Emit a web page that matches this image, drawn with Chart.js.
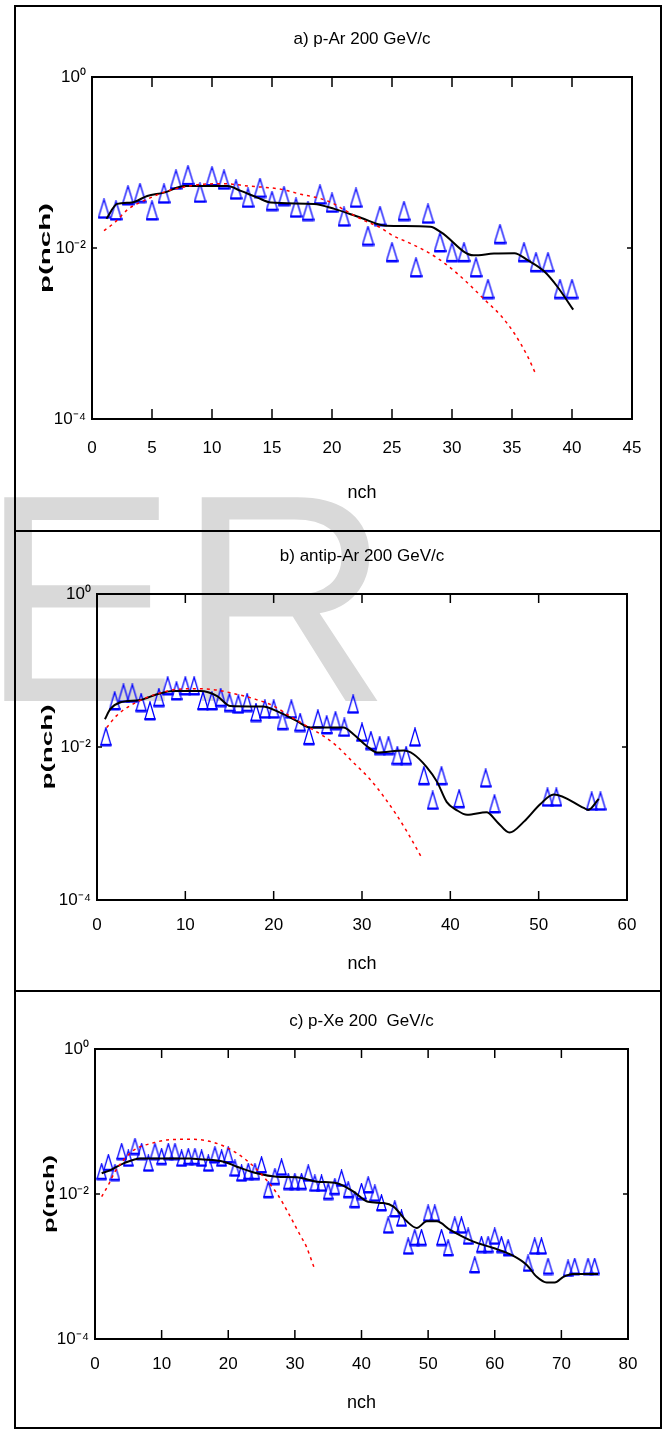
<!DOCTYPE html>
<html>
<head>
<meta charset="utf-8">
<title>p(nch) distributions</title>
<script src="https://cdn.jsdelivr.net/npm/chart.js@4.4.1/dist/chart.umd.min.js"></script>
<style>
  body { margin: 0; background: #fff; }
  #page { position: relative; width: 665px; height: 1429px; overflow: hidden; }
  #mark { position: absolute; left: -20px; top: 451px; font: 296px "Liberation Sans", Arial, sans-serif; line-height: 296px; color: #d9d9d9; white-space: nowrap; }
  .box { position: absolute; left: 14px; width: 648px; border: 2px solid #000; box-sizing: border-box; }
  canvas { position: absolute; left: 0; }
</style>
</head>
<body>
<div id="page">
  <div id="mark">ER</div>
  <div class="box" style="top:5px;height:527px"></div>
  <div class="box" style="top:530px;height:462px"></div>
  <div class="box" style="top:990px;height:439px"></div>
  <canvas id="chartA" width="665" height="524" style="top:6px"></canvas>
  <canvas id="chartB" width="665" height="460" style="top:530px"></canvas>
  <canvas id="chartC" width="665" height="439" style="top:990px"></canvas>
</div>
<script>
'use strict';
// y axis (log) ticks
const yTickVals = [1e-4, 1e-2, 1];
const yTickLabels = ['10⁻⁴', '10⁻²', '10⁰'];
const yName = 'p(nch)';
const xName = 'nch';

// a) p-Ar
const titleA = 'a) p-Ar 200 GeV/c';
const nchA = [1, 2, 3, 4, 5, 6, 7, 8, 9, 10, 11, 12, 13, 14, 15, 16, 17, 18, 19, 20,
  21, 22, 23, 24, 25, 26, 27, 28, 29, 30, 31, 32, 33, 34, 36, 37, 38, 39, 40];
const probA = [0.0287, 0.0274, 0.0411, 0.0438, 0.0274, 0.0431, 0.0628, 0.0708, 0.044, 0.0687,
  0.0628, 0.048, 0.0385, 0.0503, 0.0353, 0.0403, 0.0295, 0.027, 0.042, 0.0337,
  0.0232, 0.0385, 0.0138, 0.0236, 0.0089, 0.027, 0.0059, 0.0251, 0.0116, 0.0089,
  0.0089, 0.0059, 0.0033, 0.0145, 0.0089, 0.0068, 0.0068, 0.0033, 0.0033];
const fitA_n = [1.2, 2.1, 3.3, 4.6, 6, 7.7, 10.2, 11.3, 12.4, 13.8, 14.9, 18.5, 20.2, 22.4, 24.5,
  28.2, 29.1, 31.8, 33.5, 35.2, 36.3, 37.7, 38.8, 40.1];
const fitA_p = [0.022, 0.0328, 0.034, 0.0406, 0.0444, 0.0531, 0.0531, 0.0531, 0.0465, 0.0388, 0.034,
  0.0328, 0.0287, 0.0226, 0.0182, 0.0177, 0.0152, 0.0082, 0.0086, 0.0087, 0.0072, 0.0053, 0.0035, 0.0019];
const dashA_n = [1, 1.9, 3, 4.6, 6.3, 7.4, 9.1, 11, 13, 15.8, 17.4, 19, 20, 21, 22, 23, 24, 25, 26.3,
  28, 29.6, 31.3, 32.7, 34.1, 35.2, 36.3, 37];
const dashA_p = [0.016, 0.0199, 0.0284, 0.0372, 0.0465, 0.0507, 0.0555, 0.0564, 0.0531, 0.0485,
  0.0425, 0.038, 0.0337, 0.028, 0.0234, 0.02, 0.0174, 0.0141, 0.0117, 0.0089,
  0.0063, 0.0039, 0.0025, 0.0016, 0.001, 0.00054, 0.00033];

// b) antip-Ar
const titleB = 'b) antip-Ar 200 GeV/c';
const nchB = [1, 2, 3, 4, 5, 6, 7, 8, 9, 10, 11, 12, 13, 14, 15, 16, 17, 18, 19, 20,
  21, 22, 23, 24, 25, 26, 27, 28, 29, 30, 31, 32, 33, 34, 35, 36, 37, 38, 39,
  41, 44, 45, 51, 52, 56, 57];
const probB = [0.0136, 0.04, 0.0502, 0.0502, 0.038, 0.0296, 0.0442, 0.0626, 0.0539, 0.0626,
  0.0626, 0.04, 0.04, 0.0442, 0.038, 0.0362, 0.038, 0.0282, 0.0312, 0.0312,
  0.022, 0.0312, 0.0209, 0.014, 0.0231, 0.0194, 0.022, 0.018, 0.0362, 0.0155,
  0.0121, 0.0104, 0.0104, 0.0077, 0.0077, 0.0134, 0.0042, 0.002, 0.0042,
  0.0021, 0.0039, 0.0018, 0.0022, 0.0022, 0.00195, 0.00195];
const fitB_n = [0.9, 1.5, 2.6, 4.9, 6.8, 8.6, 11.7, 13.6, 15.1, 18.8, 20.3, 22.6, 24.1, 27.9, 29,
  30.5, 31.7, 34.7, 35.8, 37.3, 38.5, 39.6, 40.7, 41.9, 44.1, 45.3, 46.7, 48.3, 50.2, 51.7,
  55.1, 55.6, 56.8];
const fitB_p = [0.0231, 0.0312, 0.0381, 0.0411, 0.0488, 0.0538, 0.0538, 0.0463, 0.0344, 0.0338,
  0.0296, 0.022, 0.018, 0.018, 0.0148, 0.0104, 0.0085, 0.009, 0.0081, 0.0055,
  0.0035, 0.0019, 0.0015, 0.0013, 0.0014, 0.00105, 0.00076, 0.00105, 0.0018, 0.0024,
  0.0016, 0.0015, 0.0021];
const dashB_n = [1.1, 2.2, 3.7, 5.6, 7.5, 9, 11.3, 13.6, 15.4, 17.7, 20, 21.8, 23.7, 25.6, 27.1,
  29, 30.9, 32.4, 33.9, 35.1, 36.8];
const dashB_p = [0.018, 0.0255, 0.0344, 0.0442, 0.0522, 0.0566, 0.0578, 0.0555, 0.0502, 0.0429,
  0.0344, 0.0255, 0.0189, 0.014, 0.0104, 0.0063, 0.0038, 0.0023, 0.0013, 0.00078, 0.00035];

// c) p-Xe
const titleC = 'c) p-Xe 200  GeV/c';
const nchC = [1, 2, 3, 4, 5, 6, 7, 8, 9, 10, 11, 12, 13, 14, 15, 16, 17, 18, 19, 20,
  21, 22, 23, 24, 25, 26, 27, 28, 29, 30, 31, 32, 33, 34, 35, 36, 37, 38, 39, 40,
  41, 42, 43, 44, 45, 46, 47, 48, 49, 50, 51, 52, 53, 54, 55, 56, 57, 58, 59, 60,
  61, 62, 65, 66, 67, 68, 71, 72, 74, 75];
const probC = [0.0203, 0.027, 0.0197, 0.0384, 0.031, 0.045, 0.0384, 0.0265, 0.0384, 0.0327,
  0.0384, 0.0384, 0.031, 0.0327, 0.0327, 0.031, 0.0265, 0.0345, 0.031, 0.0345,
  0.0226, 0.0193, 0.0203, 0.0203, 0.0251, 0.0114, 0.0173, 0.0233, 0.0148, 0.0148,
  0.0148, 0.0193, 0.014, 0.014, 0.0108, 0.0126, 0.0164, 0.0114, 0.0083, 0.0108,
  0.0133, 0.0102, 0.0075, 0.0037, 0.0062, 0.0046, 0.0019, 0.0025, 0.0025, 0.0054,
  0.0054, 0.0025, 0.0018, 0.0037, 0.0037, 0.0026, 0.00105, 0.002, 0.002, 0.0026,
  0.002, 0.0018, 0.0011, 0.0019, 0.0019, 0.001, 0.00094, 0.001, 0.001, 0.001];
const fitC_n = [1, 2.3, 4.3, 6.8, 14.3, 15.8, 19.3, 21.3, 24.3, 27.3, 30.3, 33.3, 36.3, 38.8, 41,
  43.3, 44.8, 46.8, 48.3, 49.8, 51.3, 53.3, 56.8, 59.8, 62.8, 64.8, 66.3, 67.8, 69, 70.3,
  71.8, 75.5];
const fitC_p = [0.0193, 0.0214, 0.0265, 0.031, 0.031, 0.0301, 0.0279, 0.0238, 0.0193, 0.0173,
  0.017, 0.0148, 0.0141, 0.0108, 0.0078, 0.0075, 0.0067, 0.0042, 0.0034, 0.0042,
  0.0042, 0.0032, 0.0022, 0.0018, 0.0014, 0.00105, 0.00072, 0.0006, 0.0006, 0.00072,
  0.00079, 0.00079];
const dashC_n = [1, 2, 3, 4.3, 5.5, 6.8, 8.5, 10.8, 14.3, 16.8, 19.3, 21.3, 23.3, 25.3, 27.3,
  29.3, 30.8, 31.7, 33];
const dashC_p = [0.0092, 0.0133, 0.0203, 0.0294, 0.0383, 0.0449, 0.05, 0.0556, 0.0568, 0.0543,
  0.0459, 0.0364, 0.0265, 0.0173, 0.0102, 0.0049, 0.0027, 0.0019, 0.0009];

Chart.defaults.font.family = '"Liberation Sans Narrow", "Liberation Sans", Arial, sans-serif';
Chart.defaults.color = '#000';

// hollow blue triangle, taller than wide like in the scanned figure
function triangle(w, h) {
  let c = document.createElement('canvas');
  c.width = w;
  c.height = h;
  let g = c.getContext('2d');
  g.strokeStyle = '#0000ff';
  g.fillStyle = '#0000ff';
  g.lineWidth = 1.3;
  g.beginPath();
  g.moveTo(w / 2, 1);
  g.lineTo(w - 1, h - 2);
  g.lineTo(1, h - 2);
  g.closePath();
  g.stroke();
  g.fillRect(0.5, h - 3, w - 1, 2.5);
  return c;
}

// box round the plot, inward ticks, rotated y name
function framePlugin(p) {
  return {
    id: 'frame',
    afterDraw(chart) {
      let { ctx, chartArea: a, scales } = chart;
      ctx.save();
      ctx.strokeStyle = '#000';
      ctx.lineWidth = 1.5;
      ctx.beginPath();
      scales.x.ticks.forEach(t => {
        let px = scales.x.getPixelForValue(t.value);
        ctx.moveTo(px, a.top);
        ctx.lineTo(px, a.top + p.xTick);
        ctx.moveTo(px, a.bottom);
        ctx.lineTo(px, a.bottom - p.xTick);
      });
      scales.y.ticks.forEach(t => {
        let py = scales.y.getPixelForValue(t.value);
        ctx.moveTo(a.left, py);
        ctx.lineTo(a.left + 5, py);
        ctx.moveTo(a.right, py);
        ctx.lineTo(a.right - 5, py);
      });
      ctx.stroke();
      ctx.lineWidth = 2;
      ctx.strokeRect(a.left, a.top, a.right - a.left, a.bottom - a.top);

      ctx.font = 'bold 14px "Liberation Sans", Arial, sans-serif';
      ctx.fillStyle = '#000';
      ctx.textAlign = 'center';
      ctx.textBaseline = 'middle';
      let w = ctx.measureText(yName).width;
      ctx.translate(p.labelX, (a.top + a.bottom) / 2);
      ctx.rotate(-Math.PI / 2);
      ctx.scale(p.labelLen / w, 1);
      ctx.fillText(yName, 0, 0);
      ctx.restore();
    }
  };
}

function toXY(xs, ys) {
  return xs.map((v, i) => ({ x: v, y: ys[i] }));
}

function drawPanel(id, p) {
  new Chart(document.getElementById(id), {
    type: 'scatter',
    data: {
      datasets: [
        {
          data: toXY(p.dashN, p.dashP),
          showLine: true,
          borderColor: '#ff0000',
          borderWidth: 1.5,
          borderDash: [3, 4],
          pointRadius: 0,
          cubicInterpolationMode: 'monotone'
        },
        {
          data: toXY(p.fitN, p.fitP),
          showLine: true,
          borderColor: '#000000',
          borderWidth: 2,
          pointRadius: 0,
          cubicInterpolationMode: 'monotone'
        },
        {
          data: toXY(p.nch, p.prob),
          showLine: false,
          pointStyle: triangle(p.mw, p.mh),
          pointRadius: 7
        }
      ]
    },
    options: {
      responsive: false,
      animation: false,
      layout: { padding: { left: 0, right: p.padRight, top: 0, bottom: 0 } },
      plugins: {
        legend: { display: false },
        tooltip: { enabled: false },
        title: {
          display: true,
          text: p.title,
          fullSize: false,
          color: '#000',
          font: { size: 17, weight: 'normal', lineHeight: 1.2 },
          padding: { top: p.titleTop, bottom: p.titleBottom }
        }
      },
      scales: {
        x: {
          type: 'linear',
          min: 0,
          max: p.xMax,
          afterFit: s => { s.height = p.xHeight; },
          grid: { display: false, drawTicks: false },
          border: { display: false },
          ticks: { stepSize: p.xStep, autoSkip: false, maxRotation: 0, padding: p.xPad, font: { size: 17, lineHeight: 1.2 } },
          title: { display: true, text: xName, font: { size: 18, lineHeight: 1.2 }, padding: { top: 0, bottom: p.xTitleBottom } }
        },
        y: {
          type: 'logarithmic',
          min: 1e-4,
          max: 1,
          afterFit: s => { s.width = p.yWidth; },
          afterBuildTicks: s => { s.ticks = yTickVals.map(v => ({ value: v })); },
          grid: { display: false, drawTicks: false },
          border: { display: false },
          ticks: {
            padding: 6,
            font: { size: 17 },
            callback: v => {
              let i = yTickVals.findIndex(t => Math.abs(Math.log10(t) - Math.log10(v)) < 1e-6);
              return i < 0 ? '' : yTickLabels[i];
            }
          }
        }
      }
    },
    plugins: [framePlugin(p)]
  });
}

drawPanel('chartA', {
  title: titleA, nch: nchA, prob: probA, fitN: fitA_n, fitP: fitA_p, dashN: dashA_n, dashP: dashA_p,
  xMax: 45, xStep: 5, yWidth: 92, padRight: 33, xHeight: 111, titleTop: 23, titleBottom: 27.6,
  xPad: 18.8, xTitleBottom: 26.2, xTick: 10, labelX: 46, labelLen: 90, mw: 13, mh: 21
});
drawPanel('chartB', {
  title: titleB, nch: nchB, prob: probB, fitN: fitB_n, fitP: fitB_p, dashN: dashB_n, dashP: dashB_p,
  xMax: 60, xStep: 10, yWidth: 97, padRight: 38, xHeight: 90, titleTop: 15.8, titleBottom: 27.8,
  xPad: 14.8, xTitleBottom: 15.2, xTick: 9, labelX: 48, labelLen: 85, mw: 12, mh: 20
});
drawPanel('chartC', {
  title: titleC, nch: nchC, prob: probC, fitN: fitC_n, fitP: fitC_p, dashN: dashC_n, dashP: dashC_p,
  xMax: 80, xStep: 10, yWidth: 95, padRight: 37, xHeight: 90, titleTop: 20.8, titleBottom: 17.8,
  xPad: 14.8, xTitleBottom: 15.2, xTick: 9, labelX: 50, labelLen: 78, mw: 11, mh: 18
});
</script>
</body>
</html>
